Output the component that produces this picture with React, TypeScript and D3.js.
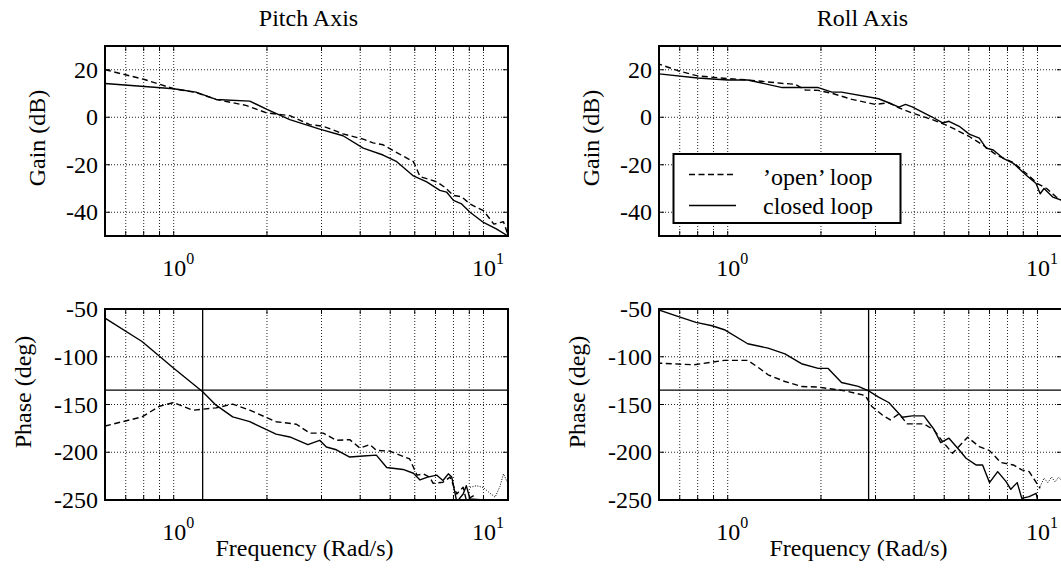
import React from 'react';
import * as d3 from 'd3';

const W = 1061;
const H = 581;
const FONT = '"Liberation Serif", "Times New Roman", serif';

// ---------- data ----------
const pitchGainOpenF = [0.6, 0.8, 1.0, 1.18, 1.37, 1.71, 2.0, 2.37, 2.75, 3.04, 3.3, 3.52, 4.09, 4.4, 4.74, 5.25, 5.94, 6.1, 6.24, 7.07, 7.5, 8.0, 8.5, 9.05, 9.5, 10.0, 10.8, 11.6, 12.0];
const pitchGainOpenDb = [20, 16, 12, 10.4, 7.5, 5, 1.8, 0.7, -3.1, -3.8, -5.5, -7, -9.2, -10.8, -11.6, -14.9, -18.7, -22, -25, -27.2, -29.5, -32.9, -33.5, -36.5, -38, -39.3, -45, -44, -49.5];
const pitchGainClosedF = [0.6, 1.0, 1.18, 1.37, 1.76, 2.0, 2.37, 2.96, 3.52, 4.09, 4.74, 5.25, 5.94, 6.56, 7.23, 7.6, 8.0, 8.5, 9.05, 10.0, 11.0, 12.0];
const pitchGainClosedDb = [14.2, 12, 10.6, 7.5, 6.8, 3.3, -1, -5, -7.8, -13, -15.9, -18.7, -24.7, -27.2, -30.8, -31.5, -35, -36.5, -40, -44.3, -47, -50];

const pitchPhaseOpenF = [0.6, 0.79, 0.9, 1.0, 1.15, 1.37, 1.55, 1.76, 2.14, 2.49, 2.75, 3.04, 3.35, 3.7, 3.99, 4.3, 4.51, 4.98, 5.78, 6.1, 6.4, 6.7, 6.88, 7.4, 7.8, 8.0, 8.2, 8.6, 8.8, 9.3];
const pitchPhaseOpenDeg = [-172.5, -163, -151.8, -148, -156, -153.5, -149.6, -156, -168, -170.7, -180, -180, -187.5, -186.8, -195.6, -192, -198, -198.8, -207, -224, -222.6, -226, -232.5, -231.4, -226, -235, -243.7, -236.7, -250, -245.4];
const pitchPhaseClosedF = [0.6, 0.79, 1.0, 1.15, 1.24, 1.37, 1.55, 1.76, 2.14, 2.37, 2.71, 2.96, 3.11, 3.35, 3.7, 4.09, 4.51, 4.87, 5.5, 5.94, 6.24, 6.6, 7.07, 7.4, 7.7, 7.9, 8.2, 8.6, 8.8, 9.05, 10.0];
const pitchPhaseClosedDeg = [-59.5, -84, -112, -128, -136.7, -150.7, -163, -168, -181, -184, -192, -187.5, -194.5, -197.4, -205, -204, -203, -216, -218, -222, -229, -226, -224, -229.6, -222.6, -226, -252, -243.7, -235, -249, -250];
const pitchPhaseTailF = [9.05, 9.5, 10.0, 10.5, 10.9, 11.3, 11.6, 12.0];
const pitchPhaseTailDeg = [-236.7, -235, -237, -243, -247, -236, -222.6, -233];

const rollGainOpenF = [0.588, 0.69, 0.8, 1.0, 1.16, 1.49, 1.65, 1.78, 1.96, 2.17, 2.52, 3.0, 3.31, 3.57, 3.94, 4.57, 5.18, 6.02, 6.65, 7.37, 8.36, 9.2, 10.0, 10.7, 11.5, 12.0];
const rollGainOpenDb = [22.8, 19.6, 17.4, 16.3, 15.7, 14.3, 13.9, 11.5, 11.3, 10.1, 7.5, 5.4, 6.1, 4, 1.8, -1, -3.8, -8.1, -11.6, -15.9, -19.1, -23.7, -27.9, -30, -33.6, -35];
const rollGainClosedF = [0.588, 0.8, 1.0, 1.16, 1.5, 1.96, 2.17, 2.33, 3.07, 3.31, 3.57, 3.75, 3.94, 4.57, 4.94, 5.18, 5.59, 6.02, 6.49, 6.83, 7.2, 7.75, 8.36, 9.2, 9.9, 10.2, 10.5, 11.2, 12.0];
const rollGainClosedDb = [18.4, 16.5, 15.7, 15.7, 12.5, 12.5, 10.6, 10.6, 7.8, 6.1, 4.3, 5.4, 4.4, 0.1, -2.4, -1.7, -3.8, -7.1, -8.8, -13, -13.8, -17.3, -19.4, -24.4, -27.9, -32.2, -30, -33.6, -35];

const rollPhaseOpenF = [0.588, 0.78, 0.975, 1.16, 1.25, 1.35, 1.53, 1.73, 1.96, 2.39, 2.78, 2.92, 3.15, 3.35, 3.57, 3.8, 4.3, 4.63, 4.99, 5.32, 5.95, 6.49, 7.0, 7.62, 8.36, 8.9, 9.4, 10.2];
const rollPhaseOpenDeg = [-106.6, -108.4, -103.8, -103.8, -110.8, -118.9, -125.9, -131.1, -131.8, -135.7, -140.6, -152.1, -160.8, -166.1, -159.8, -170.3, -170.3, -176.6, -190.6, -201, -184.3, -194.1, -198.3, -210.8, -213.3, -218.5, -220.3, -237.8];
const rollPhaseClosedF = [0.588, 0.69, 0.79, 0.89, 0.975, 1.16, 1.35, 1.53, 1.73, 1.96, 2.11, 2.33, 2.64, 2.85, 3.07, 3.31, 3.66, 3.94, 4.3, 4.63, 4.87, 5.18, 5.59, 5.88, 6.33, 6.65, 7.0, 7.44, 7.92, 8.2, 8.6, 8.9, 9.4, 9.9, 10.1];
const rollPhaseClosedDeg = [-50, -57.7, -64, -67.5, -71.7, -86.4, -91, -96.9, -107.3, -112.2, -112.2, -127, -131, -135.7, -142.3, -147.9, -163.3, -161.9, -161.9, -175.9, -189.9, -185.3, -197.6, -206.3, -213.3, -213.3, -231.8, -220.3, -230.8, -238.8, -231.8, -248.3, -246.5, -243, -256];
const rollPhaseTailF = [10.2, 10.5, 10.8, 11.1, 11.4, 11.7, 12.0];
const rollPhaseTailDeg = [-236, -227, -232, -226, -231, -226, -230];

// axis ticks
const minorX = [0.7, 0.8, 0.9, 1, 2, 3, 4, 5, 6, 7, 8, 9, 10];
const majorX = [1, 10];
const majorXExp = ['0', '1'];
const gainTicks = [20, 0, -20, -40];
const gainDomain = [-50, 30];
const phaseTicks = [-50, -100, -150, -200, -250];
const phaseDomain = [-250, -50];
const phaseRef = -135;
const pitchCrossover = 1.24;
const rollCrossover = 2.85;
const titles = ['Pitch Axis', 'Roll Axis'];
const legendLabels = ['\u2019open\u2019 loop', 'closed loop'];

type Series = { f: number[]; v: number[]; dash?: string; width?: number };

type PanelProps = {
  id: string;
  x0: number; x1: number; y0: number; y1: number;
  xDomain: [number, number];
  yDomain: number[];
  yTicks: number[];
  ylabel: string;
  ylabelX: number;
  ylabelY: number;
  series: Series[];
  vline?: number;
  hline?: number;
};

function Panel(p: PanelProps) {
  const xs = d3.scaleLog().domain(p.xDomain).range([p.x0, p.x1]);
  const ys = d3.scaleLinear().domain(p.yDomain).range([p.y1, p.y0]);
  const line = d3.line<[number, number]>().x(d => xs(d[0])).y(d => ys(d[1]));
  const tl = 5;
  const gridY = p.yTicks.filter(t => t > p.yDomain[0] && t < p.yDomain[1]);
  return (
    <g>
      <defs>
        <clipPath id={p.id}>
          <rect x={p.x0} y={p.y0} width={p.x1 - p.x0} height={p.y1 - p.y0} />
        </clipPath>
      </defs>
      {/* grid */}
      {minorX.map(v => (
        <line key={'gx' + v} x1={xs(v)} x2={xs(v)} y1={p.y0} y2={p.y1} stroke="#222" strokeWidth={1} strokeDasharray="1,2" />
      ))}
      {gridY.map(v => (
        <line key={'gy' + v} x1={p.x0} x2={p.x1} y1={ys(v)} y2={ys(v)} stroke="#222" strokeWidth={1} strokeDasharray="1,2" />
      ))}
      {/* ticks */}
      {minorX.map(v => (
        <g key={'tx' + v}>
          <line x1={xs(v)} x2={xs(v)} y1={p.y0} y2={p.y0 + tl} stroke="#000" strokeWidth={1} />
          <line x1={xs(v)} x2={xs(v)} y1={p.y1} y2={p.y1 - tl} stroke="#000" strokeWidth={1} />
        </g>
      ))}
      {p.yTicks.map(v => (
        <g key={'ty' + v}>
          <line x1={p.x0} x2={p.x0 + tl} y1={ys(v)} y2={ys(v)} stroke="#000" strokeWidth={1} />
          <line x1={p.x1} x2={p.x1 - tl} y1={ys(v)} y2={ys(v)} stroke="#000" strokeWidth={1} />
        </g>
      ))}
      {/* curves */}
      <g clipPath={`url(#${p.id})`}>
        {p.series.map((s, i) => (
          <path key={i} d={line(s.f.map((f, j) => [f, s.v[j]] as [number, number])) || ''} fill="none" stroke="#000"
            strokeWidth={s.width ?? 1.4} strokeDasharray={s.dash} strokeLinejoin="round" />
        ))}
        {p.vline !== undefined && (
          <line x1={xs(p.vline)} x2={xs(p.vline)} y1={p.y0} y2={p.y1} stroke="#000" strokeWidth={1.3} />
        )}
        {p.hline !== undefined && (
          <line x1={p.x0} x2={p.x1} y1={ys(p.hline)} y2={ys(p.hline)} stroke="#000" strokeWidth={1.3} />
        )}
      </g>
      {/* frame */}
      <rect x={p.x0} y={p.y0} width={p.x1 - p.x0} height={p.y1 - p.y0} fill="none" stroke="#000" strokeWidth={2} />
      {/* y tick labels */}
      {p.yTicks.map(v => (
        <text key={'yl' + v} x={p.x0 - 7} y={ys(v)} dy="0.34em" textAnchor="end" fontSize={24} fontFamily={FONT}>{v}</text>
      ))}
      {/* x tick labels */}
      {majorX.map((v, i) => (
        <text key={'xl' + v} x={xs(v) - 11.5} y={p.y1 + 39.5} fontSize={24} fontFamily={FONT}>
          10<tspan dy={-12} fontSize={16}>{majorXExp[i]}</tspan>
        </text>
      ))}
      <text transform={`translate(${p.ylabelX},${p.ylabelY}) rotate(-90)`} textAnchor="middle" fontSize={24} fontFamily={FONT}>{p.ylabel}</text>
    </g>
  );
}

export default function App() {
  const cols = [
    { x0: 105, x1: 508, xDomain: [0.6, 12] as [number, number] },
    { x0: 659, x1: 1062, xDomain: [0.6, 12] as [number, number] },
  ];
  const top = { y0: 46, y1: 236 };
  const bot = { y0: 309, y1: 500 };
  const dash = '6,3.5';
  return (
    <svg width={W} height={H} style={{ position: 'absolute', left: 0, top: 0, background: '#fff' }}>
      <rect x={0} y={0} width={W} height={H} fill="#fff" />
      {cols.map((c, i) => (
        <text key={'t' + i} x={(c.x0 + c.x1) / 2 + 2} y={26} textAnchor="middle" fontSize={24} fontFamily={FONT}>{titles[i]}</text>
      ))}
      <Panel id="c1" {...cols[0]} {...top} yDomain={gainDomain} yTicks={gainTicks} ylabel="Gain (dB)" ylabelX={45} ylabelY={138}
        series={[
          { f: pitchGainOpenF, v: pitchGainOpenDb, dash },
          { f: pitchGainClosedF, v: pitchGainClosedDb },
        ]} />
      <Panel id="c2" {...cols[0]} {...bot} yDomain={phaseDomain} yTicks={phaseTicks} ylabel="Phase (deg)" ylabelX={31} ylabelY={392}
        vline={pitchCrossover} hline={phaseRef}
        series={[
          { f: pitchPhaseOpenF, v: pitchPhaseOpenDeg, dash },
          { f: pitchPhaseClosedF, v: pitchPhaseClosedDeg },
          { f: pitchPhaseTailF, v: pitchPhaseTailDeg, dash: '1,1.5', width: 1 },
        ]} />
      <Panel id="c3" {...cols[1]} {...top} yDomain={gainDomain} yTicks={gainTicks} ylabel="Gain (dB)" ylabelX={599} ylabelY={138}
        series={[
          { f: rollGainOpenF, v: rollGainOpenDb, dash },
          { f: rollGainClosedF, v: rollGainClosedDb },
        ]} />
      <Panel id="c4" {...cols[1]} {...bot} yDomain={phaseDomain} yTicks={phaseTicks} ylabel="Phase (deg)" ylabelX={585} ylabelY={392}
        vline={rollCrossover} hline={phaseRef}
        series={[
          { f: rollPhaseOpenF, v: rollPhaseOpenDeg, dash },
          { f: rollPhaseClosedF, v: rollPhaseClosedDeg },
          { f: rollPhaseTailF, v: rollPhaseTailDeg, dash: '1,1.5', width: 1 },
        ]} />
      {/* legend */}
      <g>
        <rect x={673.5} y={154} width={227} height={69} fill="#fff" stroke="#000" strokeWidth={2} />
        <line x1={689} x2={736} y1={174.5} y2={174.5} stroke="#000" strokeWidth={1.4} strokeDasharray={dash} />
        <line x1={689} x2={736} y1={205.5} y2={205.5} stroke="#000" strokeWidth={1.4} />
        <text x={763} y={184.5} fontSize={24} fontFamily={FONT}>{legendLabels[0]}</text>
        <text x={763} y={214} fontSize={24} fontFamily={FONT}>{legendLabels[1]}</text>
      </g>
      {cols.map((c, i) => (
        <text key={'xl' + i} x={(c.x0 + c.x1) / 2 - 2} y={556} textAnchor="middle" fontSize={24} fontFamily={FONT}>Frequency (Rad/s)</text>
      ))}
    </svg>
  );
}
